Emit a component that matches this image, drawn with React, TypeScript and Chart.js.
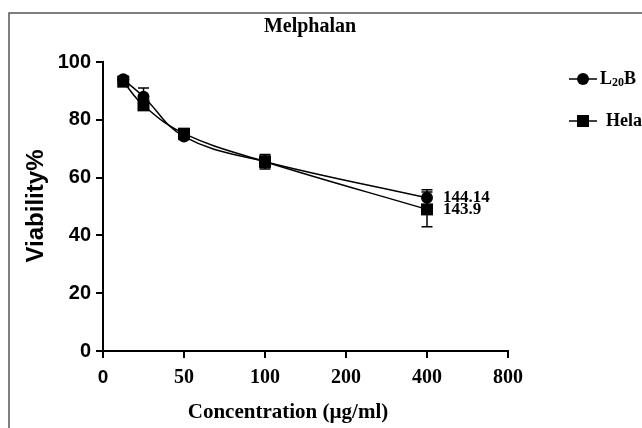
import React, { useEffect, useRef } from "react";
import { Chart, registerables } from "chart.js";

Chart.register(...registerables);

const chartTitle = "Melphalan";
const xAxisTitle = "Concentration (µg/ml)";
const yAxisTitle = "Viability%";
const xTickValues = [0, 50, 100, 200, 400, 800];
const yTickMax = 100;
const yTickStep = 20;
const concentrations = [12.5, 25, 50, 100, 400];
const l20bName = "L20B";
const l20bViability = [94, 88, 74.2, 65.5, 53];
const l20bError = [1, 3, 1, 2, 2.8];
const helaName = "Hela";
const helaViability = [93.2, 85, 75.2, 65.5, 49];
const helaError = [1, 1, 1, 2.5, 6];
const ic50Labels = ["144.14", "143.9"];

const SERIF = "'Liberation Serif', 'Times New Roman', serif";
const SANS = "'Liberation Sans', Arial, sans-serif";

// piecewise axis: linear 0..50, then doubling per tick
function toAxis(v: number): number {
  if (v <= xTickValues[1]) return v / xTickValues[1];
  return 1 + Math.log2(v / xTickValues[1]);
}

const seriesList = [
  { name: l20bName, values: l20bViability, errors: l20bError, style: "circle", radius: 6, label: ic50Labels[0] },
  { name: helaName, values: helaViability, errors: helaError, style: "rect", radius: 8.5, label: ic50Labels[1] },
];

function drawSubscriptText(ctx: CanvasRenderingContext2D, text: string, x: number, y: number, size: number) {
  let cx = x;
  const parts = text.match(/\d+|\D+/g) || [];
  for (const p of parts) {
    const isSub = /^\d+$/.test(p);
    ctx.font = `bold ${isSub ? Math.round(size * 0.68) : size}px ${SERIF}`;
    ctx.fillText(p, cx, isSub ? y + 4 : y);
    cx += ctx.measureText(p).width;
  }
}

const overlayPlugin = {
  id: "overlay",
  beforeDatasetsDraw(chart: any) {
    const { ctx, scales } = chart;
    const xs = scales.x;
    const ys = scales.y;
    ctx.save();
    ctx.strokeStyle = "#000";
    ctx.lineWidth = 1.5;
    seriesList.forEach((s) => {
      s.values.forEach((v, i) => {
        const e = s.errors[i];
        const px = xs.getPixelForValue(toAxis(concentrations[i]));
        const top = ys.getPixelForValue(v + e);
        const bot = ys.getPixelForValue(v - e);
        ctx.beginPath();
        ctx.moveTo(px, top);
        ctx.lineTo(px, bot);
        ctx.moveTo(px - 5.5, top);
        ctx.lineTo(px + 5.5, top);
        ctx.moveTo(px - 5.5, bot);
        ctx.lineTo(px + 5.5, bot);
        ctx.stroke();
      });
    });
    ctx.restore();
  },
  afterDraw(chart: any) {
    const { ctx, scales, chartArea } = chart;
    const xs = scales.x;
    const ys = scales.y;
    ctx.save();
    ctx.strokeStyle = "#555";
    ctx.lineWidth = 1.5;
    ctx.beginPath();
    ctx.moveTo(9, chart.height);
    ctx.lineTo(9, 13);
    ctx.lineTo(chart.width, 13);
    ctx.stroke();

    ctx.fillStyle = "#000";
    ctx.font = `bold 20px ${SERIF}`;
    ctx.textAlign = "center";
    ctx.textBaseline = "middle";
    ctx.fillText(chartTitle, 310, 27);
    ctx.font = `bold 21px ${SERIF}`;
    ctx.fillText(xAxisTitle, 288, 413);
    ctx.save();
    ctx.translate(36, 206);
    ctx.rotate(-Math.PI / 2);
    ctx.font = `bold 24px ${SANS}`;
    ctx.fillText(yAxisTitle, 0, 0);
    ctx.restore();

    ctx.textAlign = "left";
    ctx.font = `bold 17px ${SERIF}`;
    seriesList.forEach((s) => {
      const last = s.values.length - 1;
      const px = xs.getPixelForValue(toAxis(concentrations[last]));
      const py = ys.getPixelForValue(s.values[last]);
      ctx.fillText(s.label, px + 16, py);
    });

    const rows = [79, 121];
    const textX = [600, 606];
    seriesList.forEach((s, i) => {
      const y = rows[i];
      ctx.strokeStyle = "#000";
      ctx.lineWidth = 1.5;
      ctx.beginPath();
      ctx.moveTo(569, y);
      ctx.lineTo(597, y);
      ctx.stroke();
      ctx.beginPath();
      if (s.style === "circle") {
        ctx.arc(583, y, 6, 0, Math.PI * 2);
        ctx.fill();
      } else {
        ctx.fillRect(577, y - 6, 12, 12);
      }
      ctx.textAlign = "left";
      ctx.textBaseline = "middle";
      drawSubscriptText(ctx, s.name, textX[i], y, 18);
    });
    ctx.restore();
  },
};

export default function App() {
  const ref = useRef<HTMLCanvasElement | null>(null);
  useEffect(() => {
    if (!ref.current) return;
    const chart = new Chart(ref.current, {
      type: "line",
      data: {
        datasets: seriesList.map((s) => ({
          label: s.name,
          data: s.values.map((v, i) => ({ x: toAxis(concentrations[i]), y: v })),
          borderColor: "#000",
          backgroundColor: "#000",
          borderWidth: 1.5,
          pointStyle: s.style as any,
          pointRadius: s.radius,
          pointBorderWidth: 0,
          pointBackgroundColor: "#000",
          tension: 0.4,
          fill: false,
        })),
      },
      options: {
        animation: false,
        responsive: false,
        devicePixelRatio: 1,
        layout: { padding: { top: 62, right: 134, left: 0, bottom: 0 } },
        plugins: {
          legend: { display: false },
          title: { display: false },
          tooltip: { enabled: false },
        },
        scales: {
          x: {
            type: "linear",
            min: 0,
            max: xTickValues.length - 1,
            afterFit: (s: any) => {
              s.height = 77;
            },
            afterBuildTicks: (s: any) => {
              s.ticks = xTickValues.map((_, i) => ({ value: i }));
            },
            ticks: {
              autoSkip: false,
              maxRotation: 0,
              color: "#000",
              padding: 8,
              callback: (v: any) => String(xTickValues[Math.round(Number(v))]),
              font: (c: any) =>
                c.tick && c.tick.value === 0
                  ? { family: SANS, size: 19, weight: "bold" }
                  : { family: SERIF, size: 20, weight: "bold" },
            },
            grid: {
              display: true,
              drawOnChartArea: false,
              drawTicks: true,
              tickLength: 7,
              color: "#000",
              lineWidth: 2,
            },
            border: { display: true, color: "#000", width: 2 },
          },
          y: {
            type: "linear",
            min: 0,
            max: yTickMax,
            afterFit: (s: any) => {
              s.width = 103;
            },
            ticks: {
              stepSize: yTickStep,
              color: "#000",
              padding: 5,
              font: { family: SANS, size: 20, weight: "bold" },
            },
            grid: {
              display: true,
              drawOnChartArea: false,
              drawTicks: true,
              tickLength: 7,
              color: "#000",
              lineWidth: 2,
            },
            border: { display: true, color: "#000", width: 2 },
          },
        },
      },
      plugins: [overlayPlugin],
    });
    return () => chart.destroy();
  }, []);
  return (
    <div style={{ position: "absolute", left: 0, top: 0, width: 642, height: 428, background: "#fff" }}>
      <canvas ref={ref} width={642} height={428} style={{ width: 642, height: 428 }} />
    </div>
  );
}
